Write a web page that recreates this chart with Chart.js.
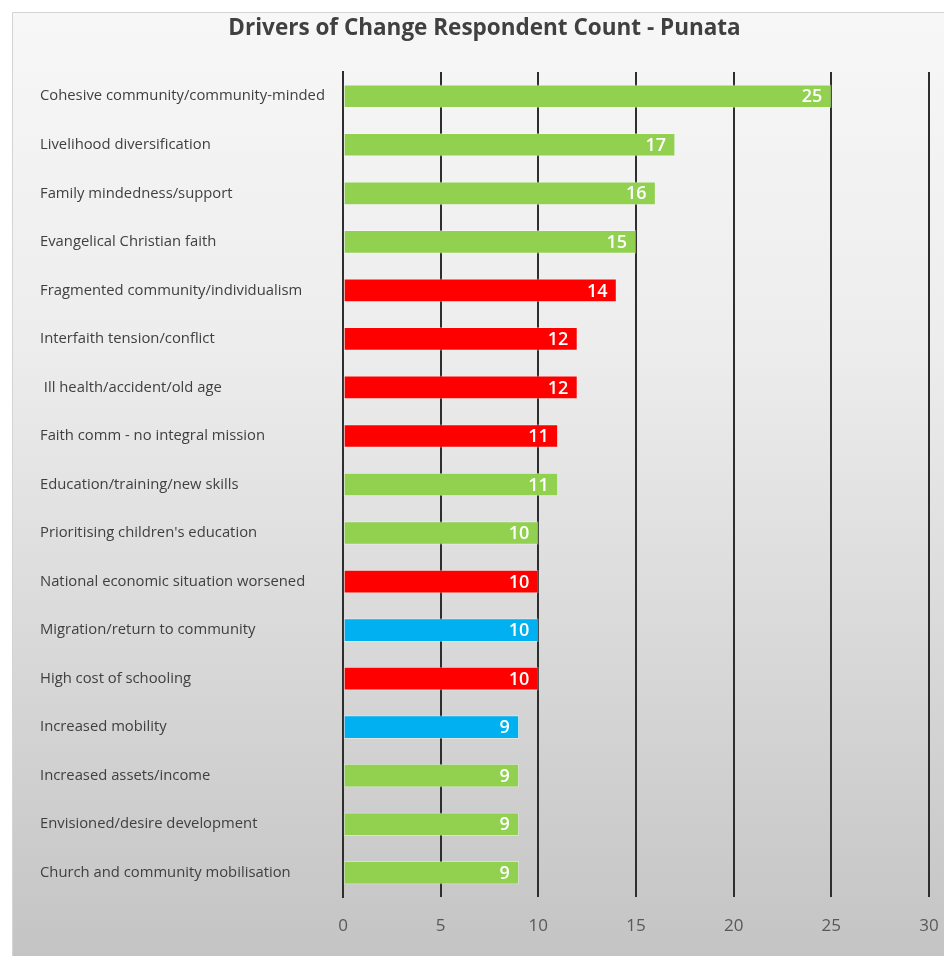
<!DOCTYPE html>
<html>
<head>
<meta charset="utf-8">
<script src="https://cdn.jsdelivr.net/npm/chart.js@4"></script>
<style>
  html, body { margin: 0; padding: 0; background: #ffffff; }
  #wrap { width: 944px; height: 956px; position: relative; }
</style>
</head>
<body>
<div id="wrap"><canvas id="c" width="944" height="956"></canvas></div>
<script>
const categories = [
  "Cohesive community/community-minded",
  "Livelihood diversification",
  "Family mindedness/support",
  "Evangelical Christian faith",
  "Fragmented community/individualism",
  "Interfaith tension/conflict",
  " Ill health/accident/old age",
  "Faith comm - no integral mission",
  "Education/training/new skills",
  "Prioritising children's education",
  "National economic situation worsened",
  "Migration/return to community",
  "High cost of schooling",
  "Increased mobility",
  "Increased assets/income",
  "Envisioned/desire development",
  "Church and community mobilisation"
];
const respondentCounts = [25, 17, 16, 15, 14, 12, 12, 11, 11, 10, 10, 10, 10, 9, 9, 9, 9];
const changeType = ["pos","pos","pos","pos","neg","neg","neg","neg","pos","pos","neg","neu","neg","neu","pos","pos","pos"];
const xTicks = [0, 5, 10, 15, 20, 25, 30];

const typeColors = { pos: "#92D050", neg: "#FF0000", neu: "#00B0F0" };
const barColors = changeType.map(t => typeColors[t]);

const bgPlugin = {
  id: "bgPanel",
  beforeDraw(chart) {
    const ctx = chart.ctx;
    ctx.save();
    ctx.fillStyle = "#ffffff";
    ctx.fillRect(0, 0, chart.width, chart.height);
    const g = ctx.createLinearGradient(0, 12, 0, chart.height);
    g.addColorStop(0, "#f7f7f7");
    g.addColorStop(0.35, "#ededed");
    g.addColorStop(0.65, "#dadada");
    g.addColorStop(1, "#c4c4c4");
    ctx.fillStyle = g;
    ctx.fillRect(12, 12, chart.width - 12, chart.height - 12);
    ctx.strokeStyle = "#d4d4d4";
    ctx.lineWidth = 1;
    ctx.beginPath();
    ctx.moveTo(12.5, chart.height);
    ctx.lineTo(12.5, 12.5);
    ctx.lineTo(chart.width, 12.5);
    ctx.stroke();
    ctx.restore();
  }
};

const valueLabels = {
  id: "valueLabels",
  afterDatasetsDraw(chart) {
    const ctx = chart.ctx;
    const meta = chart.getDatasetMeta(0);
    ctx.save();
    ctx.fillStyle = "#ffffff";
    ctx.font = "600 18px 'Open Sans', sans-serif";
    ctx.textAlign = "right";
    ctx.textBaseline = "middle";
    meta.data.forEach((bar, i) => {
      const v = chart.data.datasets[0].data[i];
      ctx.fillText(String(v), bar.x - 9, bar.y + 1);
    });
    ctx.restore();
  }
};

new Chart(document.getElementById("c"), {
  type: "bar",
  data: {
    labels: categories,
    datasets: [{
      data: respondentCounts,
      backgroundColor: barColors,
      borderColor: "rgba(255,255,255,0.35)",
      borderWidth: 1,
      borderSkipped: false,
      barThickness: 23
    }]
  },
  options: {
    indexAxis: "y",
    responsive: false,
    animation: false,
    devicePixelRatio: 1,
    layout: { padding: { left: 40, right: 15, top: 12, bottom: 0 } },
    plugins: {
      legend: { display: false },
      tooltip: { enabled: false },
      title: {
        display: true,
        text: "Drivers of Change Respondent Count - Punata",
        color: "#404040",
        font: { family: "'Open Sans', sans-serif", size: 22.5, weight: "bold" },
        padding: { top: 3, bottom: 30 }
      }
    },
    scales: {
      x: {
        min: 0,
        max: 30,
        afterBuildTicks(scale) { scale.ticks = xTicks.map(v => ({ value: v })); },
        afterFit(scale) { scale.height = 59; scale.paddingRight = 0; scale.paddingLeft = 0; },
        grid: { color: "#2e2e2e", lineWidth: 2, drawTicks: false },
        border: { display: false },
        ticks: {
          color: "#595959",
          padding: 19,
          font: { family: "'Open Sans', sans-serif", size: 17 }
        }
      },
      y: {
        afterFit(scale) { scale.width = 303; },
        grid: { display: false, drawTicks: false },
        border: { display: true, color: "#2e2e2e", width: 2 },
        ticks: {
          crossAlign: "far",
          color: "#404040",
          autoSkip: false,
          font: { family: "'Open Sans', sans-serif", size: 14.8 }
        }
      }
    }
  },
  plugins: [bgPlugin, valueLabels]
});
</script>
</body>
</html>
